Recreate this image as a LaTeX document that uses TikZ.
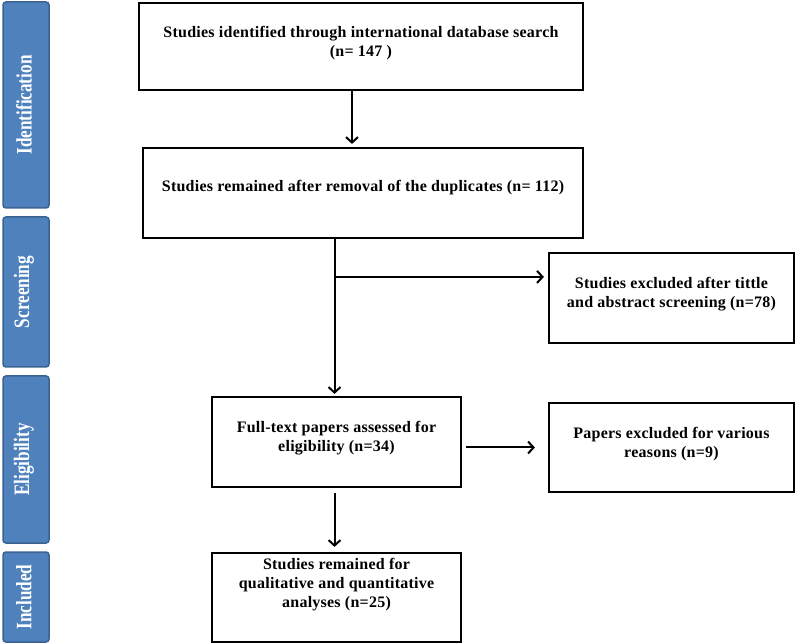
\documentclass[tikz,border=0pt]{standalone}
\usepackage{fontspec}
\setmainfont{Liberation Serif}
\newfontfamily\boxfont[LetterSpace=1.5]{Liberation Serif}
\usetikzlibrary{arrows.meta}
\definecolor{barfill}{HTML}{4F81BD}
\definecolor{barborder}{HTML}{3A6293}
\newcommand{\phasetext}[1]{\scalebox{0.78}[1]{#1}}
\begin{document}
\begin{tikzpicture}[x=1pt,y=-1pt,
  phase/.style={draw=barborder, fill=barfill, line width=1.5pt, rounded corners=3pt, minimum width=46pt, inner sep=0pt},
  phasetxt/.style={text=white, font=\fontsize{22}{26}\selectfont\bfseries, rotate=90, inner sep=0pt},
  box/.style={draw=black, line width=2.2pt, fill=white, inner sep=0pt},
  txt/.style={font=\boxfont\fontsize{16}{19}\selectfont\bfseries, align=center, inner sep=0pt},
  arr/.style={line width=2pt, -{Straight Barb[length=5.5pt,width=12pt]}}]
\useasboundingbox (0,0) rectangle (796,644);

% phase bars
\node[phase, minimum height=206pt] (p1) at (26,105) {};
\node[phasetxt] (p1t) at ([xshift=-2pt]p1.center) {\phasetext{Identification}};
\node[phase, minimum height=150pt] (p2) at (26,292) {};
\node[phasetxt] (p2t) at ([xshift=-2pt]p2.center) {\phasetext{Screening}};
\node[phase, minimum height=167pt] (p3) at (26,459.5) {};
\node[phasetxt] (p3t) at ([xshift=-2pt]p3.center) {\phasetext{Eligibility}};
\node[phase, minimum height=90pt] (p4) at (26,597) {};
\node[phasetxt] (p4t) at ([xshift=-2pt]p4.center) {\phasetext{Included}};

% boxes
\node[box, minimum width=444pt, minimum height=87pt] (b1) at (361,46.5) {};
\node[txt] (b1t) at (361,43) {Studies identified through international database search\\(n= 147 )};
\node[box, minimum width=440pt, minimum height=90pt] (b2) at (363,193) {};
\node[txt] (b2t) at (363,188) {Studies remained after removal of the duplicates (n= 112)};
\node[box, minimum width=245pt, minimum height=90pt] (b3) at (671.5,298) {};
\node[txt] (b3t) at (671.5,294) {Studies excluded after tittle\\and abstract screening (n=78)};
\node[box, minimum width=249pt, minimum height=90pt] (b4) at (336.5,442) {};
\node[txt] (b4t) at (336.5,438) {Full-text papers assessed for\\eligibility (n=34)};
\node[box, minimum width=245pt, minimum height=89pt] (b5) at (671.5,447.5) {};
\node[txt] (b5t) at (671.5,444) {Papers excluded for various\\reasons (n=9)};
\node[box, minimum width=249pt, minimum height=89pt] (b6) at (336.5,597.5) {};
\node[txt] (b6t) at (336.5,585) {Studies remained for\\qualitative and quantitative\\analyses (n=25)};

% connectors
\draw[arr, shorten >=3pt] ([xshift=-9pt]b1.south) -- ([xshift=-9pt]b1.south |- b2.north);
\draw[arr, shorten >=2pt] ([xshift=-2pt]b4.north |- b2.south) -- ([xshift=-2pt]b4.north);
\coordinate (br) at ([xshift=-2pt]b4.north |- b3t.north);
\draw[arr, shorten >=4pt] (br) -- (br -| b3.west);
\draw[arr, shorten <=4pt, shorten >=13pt] (b4.east |- b5.west) -- (b5.west);
\draw[arr, shorten <=5pt, shorten >=5pt] ([xshift=-2pt]b4.south) -- ([xshift=-2pt]b4.south |- b6.north);
\end{tikzpicture}
\end{document}
